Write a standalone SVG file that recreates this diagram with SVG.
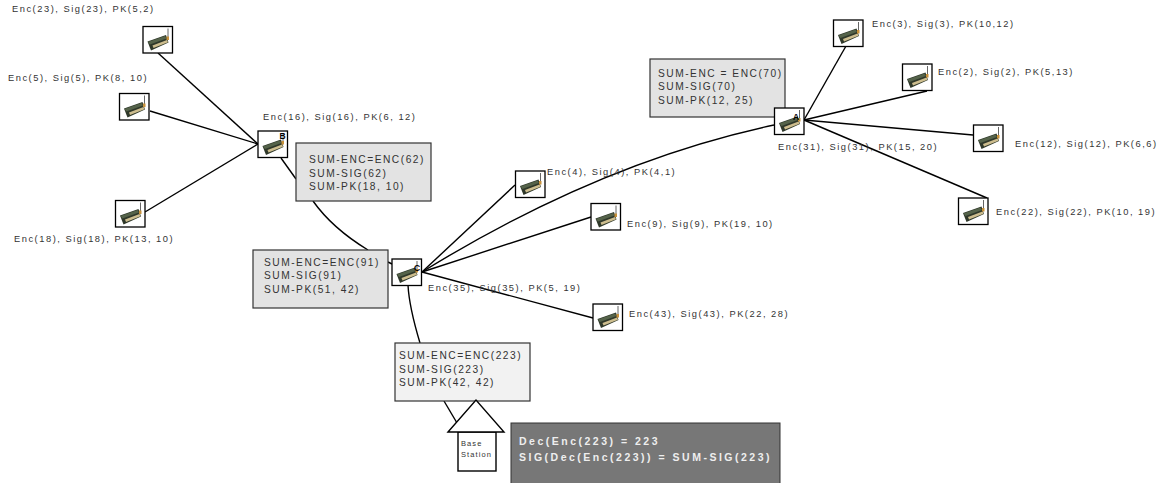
<svg xmlns="http://www.w3.org/2000/svg" xmlns:xlink="http://www.w3.org/1999/xlink" width="1166" height="483" viewBox="0 0 1166 483">
<style>
text{font-family:"Liberation Sans",Arial,sans-serif;font-size:9.3px;letter-spacing:1.53px;fill:#333}
.sum{font-size:10.2px;letter-spacing:1.52px}
.line{fill:none;stroke:#000;stroke-width:1.4}
.frame{fill:#fff;stroke:#000;stroke-width:1.3}
.box{stroke:#333;stroke-width:1.2}
.g1{fill:#e3e3e3}
.g2{fill:#f2f2f2}
.tag{font-size:8.5px;font-weight:bold;letter-spacing:0;fill:#000}
.dec{font-size:10.5px;font-weight:bold;letter-spacing:2.5px;fill:#eee}
.bs{font-size:7.5px;letter-spacing:1.1px}
</style>
<defs>
<g id="mote">
<rect class="frame" x="0" y="0" width="29.5" height="26.5"/>
<path d="M4.500 15L23 8.500L25.500 16L8 24Z" fill="#2f382a"/>
<path d="M5 15.500L22 9.500L23.500 12L7 18Z" fill="#55634a"/>
<path d="M9.500 19L24 13.500L25 15.800L10.500 21.500Z" fill="#cdbd8e"/>
<path d="M25 2V11" stroke="#666" stroke-width="1" fill="none"/>
<rect x="23.500" y="10" width="2.500" height="3.500" fill="#c8913a"/>
</g>
</defs>
<g id="connectors">
<path class="line" d="M158 53L258 144"/>
<path class="line" d="M150 111L258 144"/>
<path class="line" d="M145 212L258 144"/>
<path class="line" d="M281 158L296 179"/>
<path class="line" d="M313 201C325 218 345 236 368 250"/>
<path class="line" d="M388 262L392 264"/>
<path class="line" d="M422 272L515 185"/>
<path class="line" d="M422 272L591 217"/>
<path class="line" d="M422 272Q600 162 774 125"/>
<path class="line" d="M422 272L593 318"/>
<path class="line" d="M408 285C409 305 414 323 420 343"/>
<path class="line" d="M444 401L457 423"/>
<path class="line" d="M804 120L846 46"/>
<path class="line" d="M804 120L927 91"/>
<path class="line" d="M804 120L973 135"/>
<path class="line" d="M804 120L987 198"/>
</g>
<g id="note-b"><rect class="box g1" x="296" y="143" width="135" height="58"/><text class="sum" x="309" y="163">SUM-ENC=ENC(62)</text><text class="sum" x="309" y="177">SUM-SIG(62)</text><text class="sum" x="309" y="190">SUM-PK(18, 10)</text></g>
<g id="note-c"><rect class="box g1" x="253" y="250" width="135" height="58"/><text class="sum" x="264" y="266">SUM-ENC=ENC(91)</text><text class="sum" x="264" y="279">SUM-SIG(91)</text><text class="sum" x="264" y="293">SUM-PK(51, 42)</text></g>
<g id="note-a"><rect class="box g1" x="650" y="59" width="135" height="58"/><text class="sum" x="658" y="77">SUM-ENC = ENC(70)</text><text class="sum" x="658" y="90">SUM-SIG(70)</text><text class="sum" x="658" y="104">SUM-PK(12, 25)</text></g>
<g id="note-base"><rect class="box g2" x="395" y="343" width="135" height="58"/><text class="sum" x="399" y="359">SUM-ENC=ENC(223)</text><text class="sum" x="399" y="373">SUM-SIG(223)</text><text class="sum" x="399" y="386">SUM-PK(42, 42)</text></g>
<g id="note-dec"><rect x="511" y="423" width="269" height="62" fill="#777" stroke="#333"/><text class="dec" x="519" y="445">Dec(Enc(223) = 223</text><text class="dec" x="519" y="461">SIG(Dec(Enc(223)) = SUM-SIG(223)</text></g>
<g id="base-station"><rect x="458" y="432" width="38" height="39" fill="#fff" stroke="#000" stroke-width="1.4"/><path d="M448 432L476 400L504 432Z" fill="#fff" stroke="#000" stroke-width="1.4"/><text class="bs" x="461" y="446">Base</text><text class="bs" x="461" y="457">Station</text></g>
<g id="n23"><use xlink:href="#mote" x="143" y="26.500"/><text x="12" y="12">Enc(23), Sig(23), PK(5,2)</text></g>
<g id="n5"><use xlink:href="#mote" x="119.500" y="93.500"/><text x="8" y="81">Enc(5), Sig(5), PK(8, 10)</text></g>
<g id="n18"><use xlink:href="#mote" x="115.500" y="200.500"/><text x="14" y="242">Enc(18), Sig(18), PK(13, 10)</text></g>
<g id="n16"><use xlink:href="#mote" x="258" y="131"/><text class="tag" x="279.500" y="139">B</text><text x="263" y="120">Enc(16), Sig(16), PK(6, 12)</text></g>
<g id="n35"><use xlink:href="#mote" x="392" y="259"/><text class="tag" x="414" y="271">C</text><text x="428" y="291">Enc(35), Sig(35), PK(5, 19)</text></g>
<g id="n4"><use xlink:href="#mote" x="515.500" y="171"/><text x="547" y="175">Enc(4), Sig(4), PK(4,1)</text></g>
<g id="n9"><use xlink:href="#mote" x="591" y="203.500"/><text x="627" y="227">Enc(9), Sig(9), PK(19, 10)</text></g>
<g id="n43"><use xlink:href="#mote" x="593" y="304"/><text x="629" y="317">Enc(43), Sig(43), PK(22, 28)</text></g>
<g id="n31"><use xlink:href="#mote" x="774.500" y="108"/><text class="tag" x="793" y="120">A</text><text x="778" y="150">Enc(31), Sig(31), PK(15, 20)</text></g>
<g id="n3"><use xlink:href="#mote" x="833.500" y="20"/><text x="872" y="27">Enc(3), Sig(3), PK(10,12)</text></g>
<g id="n2"><use xlink:href="#mote" x="902.500" y="64"/><text x="938" y="75">Enc(2), Sig(2), PK(5,13)</text></g>
<g id="n12"><use xlink:href="#mote" x="973.500" y="125"/><text x="1015" y="147">Enc(12), Sig(12), PK(6,6)</text></g>
<g id="n22"><use xlink:href="#mote" x="958.500" y="198"/><text x="996" y="215">Enc(22), Sig(22), PK(10, 19)</text></g>
</svg>
